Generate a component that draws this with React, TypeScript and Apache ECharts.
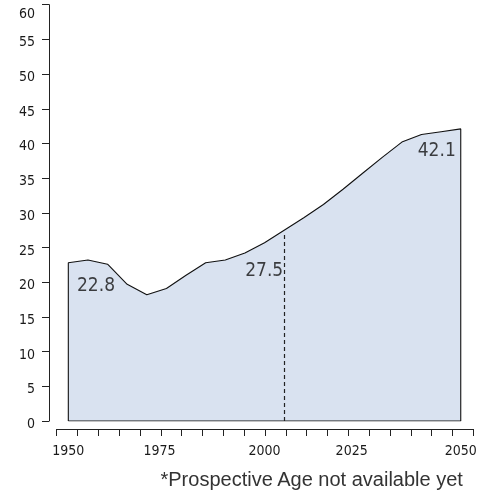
import React, { useEffect, useRef } from "react";
import * as echarts from "echarts";

const years = [1950, 1955, 1960, 1965, 1970, 1975, 1980, 1985, 1990, 1995, 2000, 2005, 2010, 2015, 2020, 2025, 2030, 2035, 2040, 2045, 2050];
const medianAge = [22.8, 23.2, 22.6, 19.7, 18.2, 19.1, 21.0, 22.8, 23.2, 24.2, 25.7, 27.5, 29.3, 31.2, 33.4, 35.7, 38.0, 40.2, 41.3, 41.7, 42.1];
const xTickLabels = [1950, 1975, 2000, 2025, 2050];
const labelledYears = [1950, 2005, 2050];
const currentYear = 2005;
const footnote = "*Prospective Age not available yet";

const NARROW = "'DejaVu Sans Condensed', 'Liberation Sans Narrow', sans-serif";
const AX = 14;

export default function App() {
  const ref = useRef<HTMLDivElement>(null);
  useEffect(() => {
    if (!ref.current) return;
    const chart = echarts.init(ref.current, null, { renderer: "svg" });
    const pts = years.map((y, i) => [y, medianAge[i]]);
    const outline = [[years[0], 0], ...pts, [years[years.length - 1], 0], [years[0], 0]];
    const labelOffsets: Record<number, number[]> = {
      1950: [27.7, 21],
      2005: [-20, 38.5],
      2050: [-24, 20],
    };
    const labelPts = labelledYears.map((y) => {
      const v = medianAge[years.indexOf(y)];
      return {
        value: [y, v],
        label: { show: true, position: "inside", offset: labelOffsets[y], formatter: v.toFixed(1) },
      };
    });
    const curVal = medianAge[years.indexOf(currentYear)];
    const lab = { fontFamily: NARROW, fontSize: AX, color: "#1a1a1a" };
    chart.setOption({
      animation: false,
      grid: { left: 56.7, right: 18.7, top: 4.7, bottom: 71, containLabel: false, outerBoundsMode: "none" },
      xAxis: [
        {
          type: "value",
          min: 1947.04,
          max: 2053.2,
          position: "bottom",
          offset: 8,
          axisLine: { show: false, onZero: false },
          axisTick: { show: false },
          splitLine: { show: false },
          axisLabel: {
            customValues: xTickLabels,
            margin: 14,
            ...lab,
            formatter: (v: number) =>
              v === 1975 ? `{s1|${v}}` : v === 2025 ? `{s2|${v}}` : `{n|${v}}`,
            rich: {
              n: { ...lab },
              s1: { ...lab, padding: [0, 14, 0, 0] },
              s2: { ...lab, padding: [0, 22, 0, 0] },
            },
          },
        },
        {
          type: "value",
          min: 0,
          max: 20,
          interval: 1,
          position: "bottom",
          offset: 8,
          axisLine: { show: true, onZero: false, lineStyle: { color: "#222", width: 1 } },
          axisTick: { show: true, length: 7, lineStyle: { color: "#222", width: 1 } },
          axisLabel: { show: false },
          splitLine: { show: false },
        },
      ],
      yAxis: {
        type: "value",
        min: 0,
        max: 60,
        interval: 5,
        offset: 7.7,
        axisLine: { show: true, onZero: false, lineStyle: { color: "#222", width: 1 } },
        axisTick: { show: true, length: 7, lineStyle: { color: "#222", width: 1 } },
        splitLine: { show: false },
        axisLabel: {
          margin: 14,
          ...lab,
          formatter: (v: number) => (v === 60 ? `{t|${v}}` : `{a|${v}}`),
          rich: {
            a: { ...lab, padding: [4, 0, 0, 0] },
            t: { ...lab, padding: [16, 0, 0, 0] },
          },
        },
      },
      series: [
        {
          type: "line",
          xAxisIndex: 0,
          data: outline,
          symbol: "none",
          lineStyle: { color: "#111", width: 1.1 },
          areaStyle: { color: "#d9e2f0", opacity: 1, origin: 0 },
          z: 2,
          markLine: {
            silent: true,
            symbol: "none",
            label: { show: false },
            lineStyle: { color: "#222", width: 1.2, type: [4, 3] },
            data: [[{ coord: [currentYear, 0] }, { coord: [currentYear, curVal - 0.3] }]],
          },
        },
        {
          type: "scatter",
          xAxisIndex: 0,
          data: labelPts,
          symbolSize: 1,
          itemStyle: { color: "rgba(0,0,0,0)" },
          label: { fontFamily: NARROW, fontSize: 19, color: "#111" },
          z: 5,
        },
      ],
      graphic: [
        {
          type: "text",
          right: 28,
          top: 469,
          style: {
            text: footnote,
            fontFamily: "'Liberation Sans', Arial, sans-serif",
            fontSize: 20,
            fill: "#333",
          },
        },
      ],
    });
    return () => chart.dispose();
  }, []);
  return <div ref={ref} style={{ position: "fixed", left: 0, top: 0, width: 492, height: 492 }} />;
}
